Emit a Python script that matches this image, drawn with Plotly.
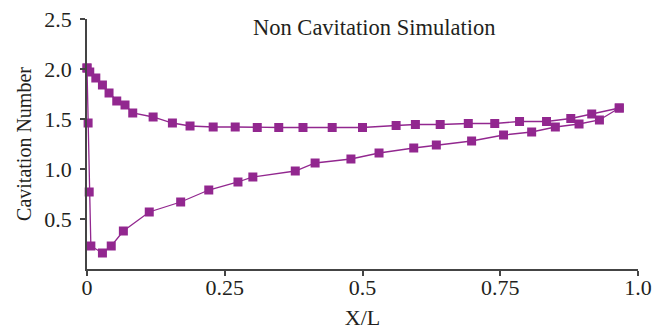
import plotly.graph_objects as go

# Upper branch (suction side)
upper_x = [0.0, 0.005, 0.016, 0.028, 0.040, 0.054, 0.069, 0.083, 0.120, 0.155, 0.187,
           0.229, 0.269, 0.309, 0.348, 0.392, 0.445, 0.500, 0.561, 0.596, 0.641,
           0.692, 0.740, 0.785, 0.834, 0.878, 0.916, 0.966]
upper_y = [2.01, 1.97, 1.91, 1.84, 1.76, 1.68, 1.64, 1.56, 1.52, 1.46, 1.43,
           1.42, 1.42, 1.415, 1.415, 1.415, 1.415, 1.415, 1.435, 1.445, 1.445,
           1.455, 1.455, 1.475, 1.475, 1.505, 1.55, 1.61]

# Lower branch
lower_x = [0.0, 0.002, 0.004, 0.007, 0.028, 0.044, 0.066, 0.113, 0.170, 0.221,
           0.274, 0.301, 0.378, 0.414, 0.479, 0.530, 0.593, 0.634, 0.698, 0.756,
           0.807, 0.850, 0.893, 0.930, 0.966]
lower_y = [2.01, 1.46, 0.77, 0.23, 0.16, 0.23, 0.38, 0.57, 0.67, 0.79,
           0.87, 0.92, 0.98, 1.06, 1.10, 1.16, 1.21, 1.24, 1.28, 1.34,
           1.37, 1.42, 1.45, 1.49, 1.61]

x_ticks = [0, 0.25, 0.5, 0.75, 1.0]
x_tick_labels = ["0", "0.25", "0.5", "0.75", "1.0"]
y_ticks = [0.5, 1.0, 1.5, 2.0, 2.5]
y_tick_labels = ["0.5", "1.0", "1.5", "2.0", "2.5"]

color = "#92278F"
font_family = "Liberation Serif, Times New Roman, serif"
text_color = "#231F20"
axis_color = "#444444"

fig = go.Figure()
fig.add_trace(go.Scatter(
    x=upper_x, y=upper_y, mode="lines+markers", name="upper",
    line=dict(color=color, width=1.3),
    marker=dict(symbol="square", size=9, color=color),
    cliponaxis=False, xaxis="x", yaxis="y",
))
fig.add_trace(go.Scatter(
    x=lower_x, y=lower_y, mode="lines+markers", name="lower",
    line=dict(color=color, width=1.3),
    marker=dict(symbol="square", size=9, color=color),
    cliponaxis=False, xaxis="x2", yaxis="y",
))

fig.update_layout(
    width=669, height=331,
    margin=dict(l=87, r=31, t=19, b=62),
    paper_bgcolor="white", plot_bgcolor="white",
    showlegend=False,
    font=dict(family=font_family, size=22, color=text_color),
    annotations=[dict(
        text="Non Cavitation Simulation", xref="paper", yref="paper",
        x=0.522, y=0.965, xanchor="center", yanchor="middle",
        showarrow=False, font=dict(family=font_family, size=22.5, color=text_color),
    )],
    xaxis=dict(
        range=[0, 1.0], tickvals=x_ticks, showticklabels=False,
        showgrid=False, zeroline=False, showline=True, linecolor=axis_color, linewidth=1.5,
        ticks="outside", ticklen=5, tickcolor=axis_color, tickwidth=1.5,
        automargin=False,
    ),
    xaxis2=dict(
        range=[0, 1.0], tickvals=x_ticks, ticktext=x_tick_labels,
        overlaying="x", anchor="free", position=0.024, side="bottom",
        showgrid=False, zeroline=False, showline=False,
        ticks="outside", ticklen=5, tickcolor="rgba(0,0,0,0)", tickwidth=1.5,
        automargin=False,
        title=dict(text="X/L", standoff=10, font=dict(size=22)),
        tickfont=dict(size=22),
    ),
    yaxis=dict(
        range=[0, 2.5], tickvals=y_ticks, ticktext=y_tick_labels,
        showgrid=False, zeroline=False, showline=True, linecolor=axis_color, linewidth=1.5,
        ticks="outside", ticklen=5, tickcolor=axis_color, tickwidth=1.5,
        ticklabelstandoff=4, automargin=False,
        title=dict(text="Cavitation Number", standoff=7, font=dict(size=20)),
        tickfont=dict(size=22),
    ),
)

fig.write_html("out.html")
